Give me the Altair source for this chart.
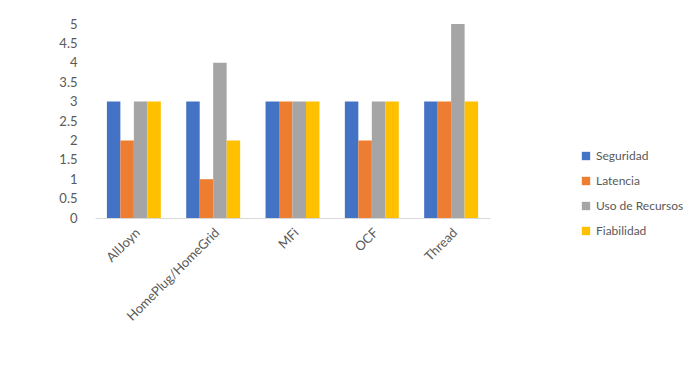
import altair as alt
import pandas as pd

categories = ["AllJoyn", "HomePlug/HomeGrid", "MFi", "OCF", "Thread"]
series = ["Seguridad", "Latencia", "Uso de Recursos", "Fiabilidad"]
seguridad = [3, 3, 3, 3, 3]
latencia = [2, 1, 3, 2, 3]
uso_recursos = [3, 4, 3, 3, 5]
fiabilidad = [3, 2, 3, 3, 3]
colors = ["#4472C4", "#ED7D31", "#A5A5A5", "#FFC000"]
y_ticks = [0, 0.5, 1, 1.5, 2, 2.5, 3, 3.5, 4, 4.5, 5]

rows = []
for name, vals in zip(series, [seguridad, latencia, uso_recursos, fiabilidad]):
    for c, v in zip(categories, vals):
        rows.append({"Plataforma": c, "Serie": name, "Valor": v})
df = pd.DataFrame(rows)

FONT = "Lato"
GREY = "#595959"

chart = alt.Chart(df).mark_bar().encode(
    x=alt.X("Plataforma:N", sort=categories, title=None,
            scale=alt.Scale(paddingInner=0.32, paddingOuter=0.15),
            axis=alt.Axis(labelAngle=-45, ticks=False, domainColor="#D9D9D9",
                          labelColor=GREY, labelFontSize=13, labelFont=FONT,
                          labelPadding=8)),
    xOffset=alt.XOffset("Serie:N", sort=series),
    y=alt.Y("Valor:Q", title=None,
            scale=alt.Scale(domain=[0, 5]),
            axis=alt.Axis(values=y_ticks, grid=False, domain=False, ticks=False,
                          labelColor=GREY, labelFontSize=13, labelFont=FONT,
                          labelPadding=18, format="~g")),
    color=alt.Color("Serie:N", sort=series,
                    scale=alt.Scale(domain=series, range=colors),
                    legend=alt.Legend(title=None, orient="none", legendX=485, legendY=126,
                                      symbolType="square", symbolSize=70,
                                      symbolStrokeWidth=0,
                                      labelFont=FONT, labelFontSize=12, labelColor=GREY,
                                      rowPadding=13, labelOffset=4)),
).properties(
    width=395, height=194,
    autosize="none",
    background="white",
    padding={"left": 95, "top": 24, "right": 210, "bottom": 172},
).configure_view(stroke=None)

chart.save("out.html", embed_options={"renderer": "svg", "actions": False})
